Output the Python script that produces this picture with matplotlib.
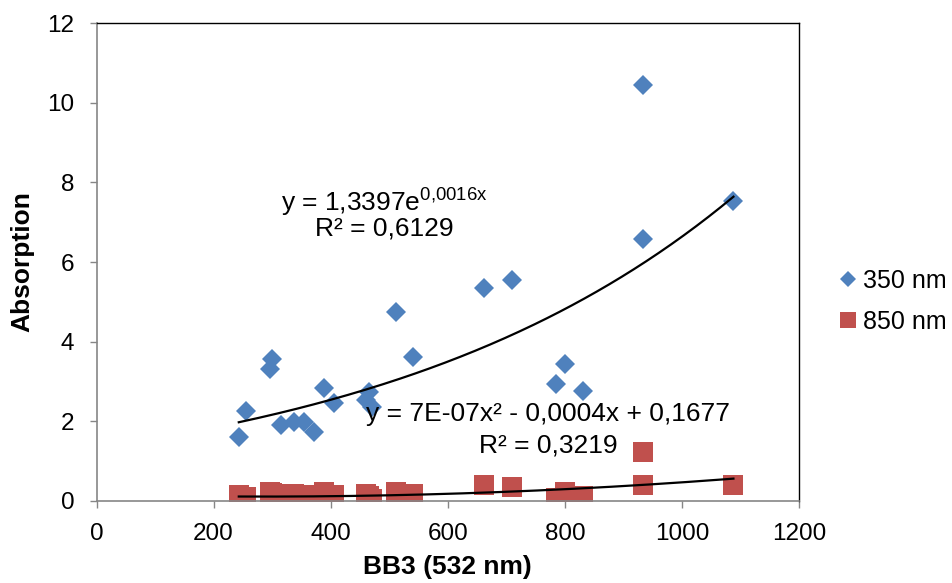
import matplotlib
matplotlib.use("Agg")
import matplotlib.pyplot as plt
import numpy as np

plt.rcParams["font.family"] = ["Liberation Sans", "DejaVu Sans"]
plt.rcParams["mathtext.fontset"] = "custom"
plt.rcParams["mathtext.rm"] = "Liberation Sans"

# BB3 backscatter (532 nm) for each sample
bb3 = [243, 255, 297, 300, 315, 337, 354, 371, 389, 406, 460, 465, 471,
       511, 540, 662, 709, 785, 800, 831, 933, 933, 1088]

# absorption at 350 nm and 850 nm for the same samples
abs_350 = [1.61, 2.26, 3.31, 3.56, 1.91, 1.99, 1.99, 1.74, 2.83, 2.45, 2.54,
           2.74, 2.37, 4.75, 3.62, 5.34, 5.55, 2.93, 3.44, 2.76, 6.57, 10.44, 7.53]
abs_850 = [0.15, 0.11, 0.22, 0.20, 0.18, 0.18, 0.16, 0.15, 0.22, 0.15, 0.18,
           0.12, 0.05, 0.23, 0.17, 0.40, 0.36, 0.07, 0.23, 0.13, 0.40, 1.22, 0.40]

# trend line coefficients
exp_a, exp_b = 1.3397, 0.0016
poly_c = [7e-07, -0.0004, 0.1677]

BLUE = "#4F81BD"
RED = "#C0504D"
GREY = "#868686"

fig = plt.figure(figsize=(9.53, 5.83), dpi=100)
ax = fig.add_axes([0.1013, 0.1407, 0.7371, 0.8198])

ax.plot(bb3, abs_350, linestyle="none", marker="D", markersize=10,
        color=BLUE, markeredgewidth=0, label="350 nm", zorder=2)
ax.plot(bb3, abs_850, linestyle="none", marker="s", markersize=14,
        color=RED, markeredgewidth=0, label="850 nm", zorder=2)

xs = np.linspace(min(bb3), max(bb3), 200)
ax.plot(xs, exp_a * np.exp(exp_b * xs), color="black", lw=1.6, zorder=3)
ax.plot(xs, np.polyval(poly_c, xs), color="black", lw=1.6, zorder=3)

ax.text(491, 7.48, r"y = 1,3397e$\mathregular{^{0{,}0016x}}$", ha="center",
        va="center", fontsize=19)
ax.text(491, 6.84, "R² = 0,6129", ha="center", va="center", fontsize=19)
ax.text(772, 2.19, "y = 7E-07x² - 0,0004x + 0,1677", ha="center",
        va="center", fontsize=19)
ax.text(772, 1.39, "R² = 0,3219", ha="center", va="center", fontsize=19)

ax.set_xlim(0, 1200)
ax.set_ylim(0, 12)
ax.set_xticks(range(0, 1201, 200))
ax.set_yticks(range(0, 13, 2))
ax.tick_params(direction="out", length=5, width=1, color=GREY,
               labelsize=17.5)
ax.tick_params(axis="x", pad=11)
ax.tick_params(axis="y", pad=11)

for side in ("left", "bottom"):
    ax.spines[side].set_color(GREY)
    ax.spines[side].set_linewidth(1.2)
for side in ("top", "right"):
    ax.spines[side].set_color("black")
    ax.spines[side].set_linewidth(1.0)

ax.set_xlabel("BB3 (532 nm)", fontsize=19, fontweight="bold", labelpad=7)
ax.set_ylabel("Absorption", fontsize=19, fontweight="bold", labelpad=9)

fig.legend(handles=ax.get_lines()[:2], loc="center left",
           bbox_to_anchor=(0.877, 0.483), frameon=False, fontsize=18,
           borderpad=0, borderaxespad=0, handletextpad=0.1,
           handlelength=1.0, labelspacing=0.7, markerscale=0.85)

fig.savefig("out.png", dpi=100)
